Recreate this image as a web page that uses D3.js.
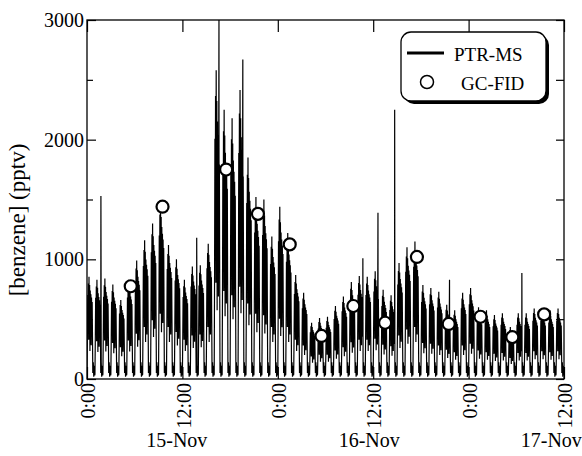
<!DOCTYPE html>
<html>
<head>
<meta charset="utf-8">
<script src="https://cdn.jsdelivr.net/npm/d3@7"></script>
<style>
body { margin: 0; background: #fff; }
svg { display: block; }
text { font-family: "Liberation Serif", "Times New Roman", serif; fill: #000; }
</style>
</head>
<body>
<svg id="chart" width="582" height="456"></svg>
<script>

// PTR-MS : one value per hour (top of the hourly peak, bottom of the dense band)
var ptrStart = new Date(2005, 10, 15, 0, 0);
var ptrPeak = [855, 830, 840, 790, 660, 830, 990, 1160, 1300, 1480,
               1120, 1000, 830, 940, 950, 1130, 2580, 2250, 2180, 2415,
               1850, 1520, 1500, 1190, 1440, 1220, 870, 720, 470, 510,
               520, 610, 690, 810, 860, 855, 900, 745, 700, 970,
               1100, 1150, 785, 760, 730, 620, 575, 720, 760, 600,
               575, 535, 550, 435, 550, 550, 590, 590, 575, 590];
var ptrFloor = [470, 450, 460, 430, 380, 460, 540, 620, 700, 780,
                620, 560, 470, 520, 530, 620, 1150, 1050, 1000, 1100,
                900, 780, 760, 620, 720, 620, 470, 400, 270, 290,
                290, 340, 380, 440, 470, 470, 480, 410, 390, 520,
                590, 620, 430, 420, 400, 350, 320, 400, 420, 340,
                320, 300, 310, 250, 310, 310, 330, 330, 320, 330];
// single tall spikes (hours after start, pptv)
var spikeHour = [1.75, 13.8, 16.6, 19.6, 34.7, 36.6, 38.7, 45.6, 54.7];
var spikeValue = [1530, 1180, 3000, 2670, 1010, 1390, 2250, 830, 885];

// GC-FID samples
var gcTime = ["2005-11-15 05:30", "2005-11-15 09:30", "2005-11-15 17:30", "2005-11-15 21:30",
              "2005-11-16 01:30", "2005-11-16 05:30", "2005-11-16 09:30", "2005-11-16 13:30",
              "2005-11-16 17:30", "2005-11-16 21:30", "2005-11-17 01:30", "2005-11-17 05:30",
              "2005-11-17 09:30"];
var gcValue = [775, 1440, 1750, 1380, 1125, 360, 610, 470, 1020, 460, 520, 350, 540];

var yMajor = [0, 1000, 2000, 3000];
var yMinor = [500, 1500, 2500];
var dateLabels = ["15-Nov", "16-Nov", "17-Nov"];
var dateLabelHour = [11.3, 35.5, 58.4];

var plotL = 87, plotR = 564, plotT = 20, plotB = 379;
var svg = d3.select('#chart');
var parseTime = d3.timeParse("%Y-%m-%d %H:%M");

function hourToDate(h) {
	return new Date(ptrStart.getTime() + h * 3600000);
}

var x = d3.scaleTime()
	.domain([ptrStart, hourToDate(60)])
	.range([plotL, plotR]);
var y = d3.scaleLinear()
	.domain([0, 3000])
	.range([plotB, plotT]);

// build the PTR-MS trace: each hour rises into a dense noisy band, then falls back near zero
var topShape = [0.6, 0.85, 1.0, 0.82, 0.7, 0.62, 0.55, 0.45];
var dipShape = [1.0, 0.7, 0.9, 0.5, 0.85, 0.6, 0.95, 0.75];
var lowShape = [50, 140, 20, 110, 30];
var pts = [];
ptrPeak.forEach(function (peak, h) {
	var fl = ptrFloor[h];
	pts.push([h, 40]);
	pts.push([h + 0.05, fl * 0.8]);
	topShape.forEach(function (s, k) {
		pts.push([h + 0.09 + k * 0.08, fl + s * (peak - fl)]);
		pts.push([h + 0.13 + k * 0.08, fl * dipShape[k]]);
	});
	lowShape.forEach(function (v, k) {
		pts.push([h + 0.73 + k * 0.06, v]);
	});
});
spikeHour.forEach(function (h, i) {
	pts.push([h, spikeValue[i]]);
});
pts.sort(function (a, b) { return a[0] - b[0]; });

svg.append('clipPath').attr('id', 'plotclip')
	.append('rect')
	.attr('x', plotL).attr('y', plotT)
	.attr('width', plotR - plotL).attr('height', plotB - plotT);

var line = d3.line()
	.x(function (d) { return x(hourToDate(d[0])); })
	.y(function (d) { return y(d[1]); });

svg.append('path')
	.datum(pts)
	.attr('clip-path', 'url(#plotclip)')
	.attr('d', line)
	.attr('fill', 'none')
	.attr('stroke', '#000')
	.attr('stroke-width', 1.2)
	.attr('stroke-linejoin', 'miter');

// GC-FID circles
svg.append('g').selectAll('circle')
	.data(gcValue)
	.enter()
	.append('circle')
	.attr('cx', function (d, i) { return x(parseTime(gcTime[i])); })
	.attr('cy', function (d) { return y(d); })
	.attr('r', 6)
	.attr('fill', '#fff')
	.attr('stroke', '#000')
	.attr('stroke-width', 2.2);

// axes, ticks pointing inward
function clean(g) {
	g.select('.domain').remove();
	g.selectAll('line').attr('stroke', '#000').attr('stroke-width', 1.2);
}

svg.append('g')
	.attr('transform', 'translate(' + plotL + ',0)')
	.call(d3.axisLeft(y).tickValues(yMajor).tickSize(-9).tickPadding(3).tickFormat(d3.format('d')))
	.call(clean)
	.selectAll('text')
	.style('font-size', '20px')
	.attr('font-family', null);

svg.append('g')
	.attr('transform', 'translate(' + plotL + ',0)')
	.call(d3.axisLeft(y).tickValues(yMinor).tickSize(-6).tickFormat(''))
	.call(clean);

svg.append('g')
	.attr('transform', 'translate(' + plotR + ',0)')
	.call(d3.axisRight(y).tickValues(yMajor.concat(yMinor)).tickSize(-8).tickFormat(''))
	.call(clean);

svg.append('g')
	.attr('transform', 'translate(0,' + plotT + ')')
	.call(d3.axisTop(x).ticks(d3.timeHour.every(12)).tickSize(-12).tickFormat(''))
	.call(clean);

var xAxis = svg.append('g')
	.attr('transform', 'translate(0,' + plotB + ')')
	.call(d3.axisBottom(x).ticks(d3.timeHour.every(12)).tickSize(-12)
		.tickFormat(d3.timeFormat('%-H:%M')))
	.call(clean);

xAxis.selectAll('text')
	.attr('transform', 'rotate(-90)')
	.attr('text-anchor', 'end')
	.attr('x', -4)
	.attr('y', 0)
	.attr('dy', '0.38em')
	.attr('font-family', null)
	.style('font-size', '20px');

// frame
svg.append('rect')
	.attr('x', plotL).attr('y', plotT)
	.attr('width', plotR - plotL).attr('height', plotB - plotT)
	.attr('fill', 'none')
	.attr('stroke', '#000')
	.attr('stroke-width', 1.3);

// date labels
svg.append('g').selectAll('text')
	.data(dateLabels)
	.enter()
	.append('text')
	.attr('x', function (d, i) { return x(hourToDate(dateLabelHour[i])); })
	.attr('y', 447)
	.attr('text-anchor', 'middle')
	.style('font-size', '20px')
	.text(function (d) { return d; });

// y title
svg.append('text')
	.attr('transform', 'translate(25,220) rotate(-90)')
	.attr('text-anchor', 'middle')
	.style('font-size', '23px')
	.text('[benzene] (pptv)');

// legend
var legend = svg.append('g');
legend.append('rect')
	.attr('x', 404).attr('y', 35)
	.attr('width', 145).attr('height', 69)
	.attr('rx', 10)
	.attr('fill', '#000');
legend.append('rect')
	.attr('x', 401).attr('y', 32)
	.attr('width', 145).attr('height', 69)
	.attr('rx', 10)
	.attr('fill', '#fff')
	.attr('stroke', '#000')
	.attr('stroke-width', 1.3);
legend.append('line')
	.attr('x1', 407).attr('x2', 444)
	.attr('y1', 53).attr('y2', 53)
	.attr('stroke', '#000')
	.attr('stroke-width', 3);
legend.append('text')
	.attr('x', 454).attr('y', 61)
	.style('font-size', '19px')
	.text('PTR-MS');
legend.append('circle')
	.attr('cx', 427).attr('cy', 82)
	.attr('r', 6.5)
	.attr('fill', '#fff')
	.attr('stroke', '#000')
	.attr('stroke-width', 1.5);
legend.append('text')
	.attr('x', 461).attr('y', 90)
	.style('font-size', '19px')
	.text('GC-FID');

</script>
</body>
</html>
